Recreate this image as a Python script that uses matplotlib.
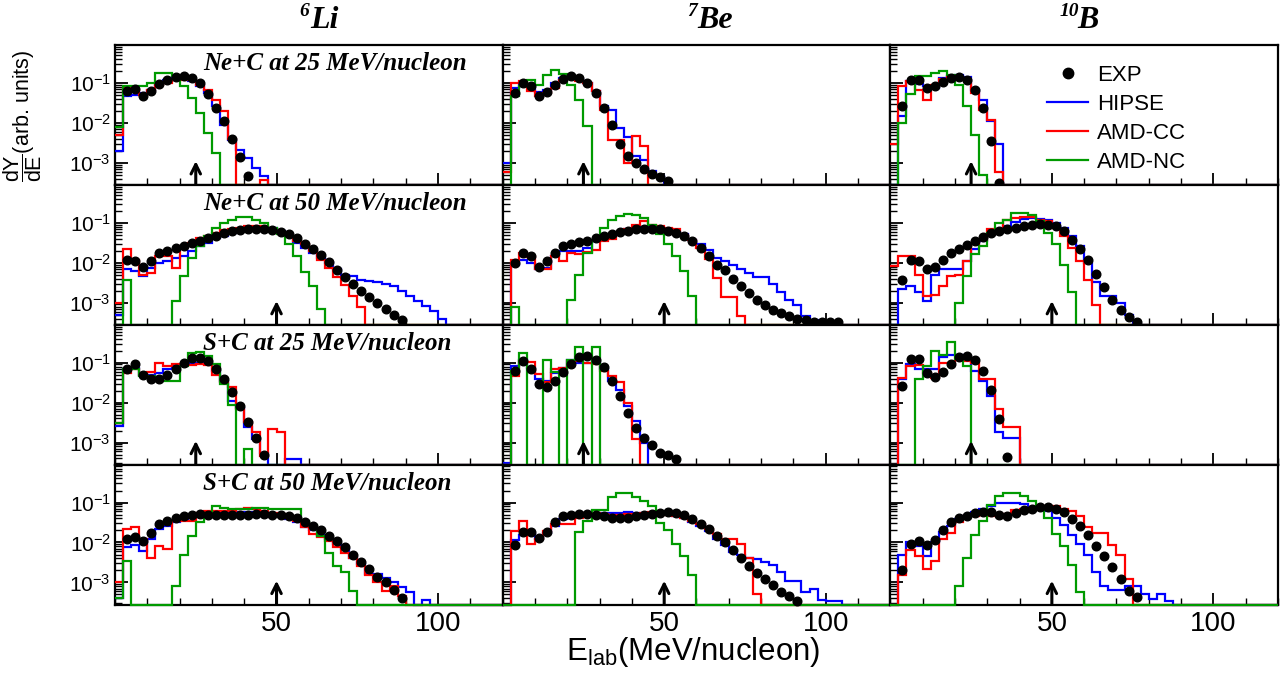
import numpy as np
import matplotlib
matplotlib.use("Agg")
import matplotlib.pyplot as plt
from matplotlib.lines import Line2D
from matplotlib.ticker import LogLocator, NullFormatter, FixedLocator, MultipleLocator, FuncFormatter

# ---------------- data (dY/dE per 2.5 MeV/nucleon bin, 0 = empty bin) ----------------
bin_width = 2.5
x_max = 120.0

# 6Li, Ne+C 25
li_ne25_exp = [0, 0.062, 0.072, 0.048, 0.062, 0.095, 0.12, 0.14, 0.147, 0.13, 0.1, 0.054, 0.024, 0.011, 0.004, 0.0014, 4.8e-4]
li_ne25_hipse = [0.002, 0.048, 0.05, 0.056, 0.068, 0.1, 0.12, 0.13, 0.125, 0.11, 0.085, 0.056, 0.026, 0.009, 0.0038, 0.00215, 0.0013, 7.5e-4, 4.6e-4]
li_ne25_amdcc = [0.005, 0.075, 0.068, 0.05, 0.065, 0.09, 0.1, 0.115, 0.12, 0.115, 0.09, 0.068, 0.038, 0.02, 0.004, 0, 0, 0, 3.8e-4]
li_ne25_amdnc = [0.008, 0.082, 0.082, 0.085, 0.1, 0.178, 0.178, 0.147, 0.082, 0.042, 0.0178, 0.0056, 0.0018]

# 6Li, Ne+C 50
li_ne50_exp = [0, 0.012, 0.011, 0.008, 0.011, 0.0178, 0.02, 0.024, 0.027, 0.032, 0.036, 0.042, 0.048, 0.056, 0.062, 0.066,
               0.068, 0.068, 0.068, 0.066, 0.058, 0.051, 0.042, 0.03, 0.022, 0.016, 0.0105, 0.0065, 0.0045, 0.003, 0.002,
               0.0014, 0.001, 7e-4, 5e-4, 3.6e-4]
li_ne50_hipse = [5e-4, 0.0068, 0.0062, 0.0046, 0.0075, 0.01, 0.011, 0.013, 0.0147, 0.0195, 0.026, 0.032, 0.041, 0.048, 0.056,
                 0.061, 0.068, 0.075, 0.075, 0.072, 0.062, 0.048, 0.032, 0.024, 0.0178, 0.0132, 0.01, 0.0068, 0.005, 0.0046,
                 0.0038, 0.0035, 0.0032, 0.0029, 0.0026, 0.002, 0.0015, 0.0011, 8.3e-4, 6.2e-4, 3.8e-4]
li_ne50_amdcc = [0.001, 0.0215, 0.012, 0.005, 0.0056, 0.0147, 0.0147, 0.0075, 0.026, 0.032, 0.042, 0.048, 0.056, 0.066, 0.071,
                 0.075, 0.082, 0.085, 0.082, 0.071, 0.056, 0.046, 0.035, 0.03, 0.02, 0.012, 0.0075, 0.0045, 0.0028, 0.0015, 8e-4]
li_ne50_amdnc = [0, 0.0038, 0, 0, 0, 0, 0, 0.0011, 0.0046, 0.013, 0.026, 0.046, 0.075, 0.1, 0.12, 0.14, 0.14, 0.12, 0.1, 0.075,
                 0.051, 0.029, 0.0147, 0.006, 0.0026, 6.8e-4]

# 6Li, S+C 25
li_s25_exp = [0, 0.07, 0.09, 0.048, 0.04, 0.04, 0.048, 0.068, 0.1, 0.13, 0.13, 0.11, 0.07, 0.038, 0.018, 0.008, 0.0033, 0.0013, 4.8e-4]
li_s25_hipse = [0.0026, 0.07, 0.075, 0.05, 0.05, 0.056, 0.068, 0.082, 0.09, 0.1, 0.1, 0.09, 0.062, 0.035, 0.011, 0.0075, 0.0024,
                0.0012, 5.6e-4, 0, 0, 3.8e-4, 3.8e-4]
li_s25_amdcc = [0.003, 0.056, 0.068, 0.05, 0.06, 0.1, 0.082, 0.09, 0.085, 0.085, 0.09, 0.085, 0.05, 0.032, 0.024, 0.007, 0.0032,
                0.0018, 4.6e-4, 0.0022, 0.0018]
li_s25_amdnc = [0.003, 0.068, 0.07, 0.046, 0.046, 0.042, 0.035, 0.035, 0.082, 0.17, 0.18, 0.15, 0.09, 0.029, 0.0085, 0, 6.8e-4]

# 6Li, S+C 50
li_s50_exp = [0, 0.012, 0.014, 0.011, 0.017, 0.029, 0.035, 0.04, 0.045, 0.048, 0.051, 0.048, 0.048, 0.048, 0.048, 0.048, 0.048,
              0.051, 0.051, 0.05, 0.048, 0.045, 0.04, 0.033, 0.026, 0.02, 0.0147, 0.011, 0.0075, 0.005, 0.0033, 0.0022, 0.0014,
              0.001, 6.5e-4, 4e-4]
li_s50_hipse = [4e-4, 0.0075, 0.0085, 0.0062, 0.012, 0.0215, 0.026, 0.033, 0.038, 0.044, 0.051, 0.054, 0.056, 0.058, 0.058, 0.058,
                0.058, 0.058, 0.056, 0.051, 0.046, 0.038, 0.032, 0.024, 0.02, 0.015, 0.012, 0.009, 0.0068, 0.0042, 0.0029, 0.0016,
                0.0016, 0.0013, 0.001, 7.5e-4, 5.6e-4, 0, 3.6e-4]
li_s50_amdcc = [0.001, 0.0215, 0.024, 0.012, 0.0042, 0.0083, 0.0068, 0.035, 0.035, 0.035, 0.056, 0.062, 0.062, 0.062, 0.062,
                0.068, 0.075, 0.068, 0.062, 0.056, 0.051, 0.042, 0.035, 0.024, 0.0165, 0.0135, 0.011, 0.0075, 0.0056, 0.0042,
                0.0026, 0.0015, 0.001, 6.2e-4, 8.3e-4, 4.6e-4]
li_s50_amdnc = [4e-4, 0.0035, 0, 0, 0, 0, 0, 8.3e-4, 0.005, 0.0147, 0.032, 0.056, 0.082, 0.075, 0.068, 0.068, 0.07, 0.075,
                0.075, 0.07, 0.07, 0.07, 0.068, 0.035, 0.028, 0.0147, 0.0056, 0.0026, 0.0018, 6.2e-4]

# 7Be, Ne+C 25
be_ne25_exp = [0, 0.056, 0.1, 0.082, 0.048, 0.058, 0.09, 0.125, 0.147, 0.13, 0.1, 0.056, 0.024, 0.0087, 0.003, 0.0015, 0.001,
               7e-4, 5.3e-4, 4.4e-4, 3.5e-4]
be_ne25_hipse = [0.001, 0.075, 0.09, 0.082, 0.058, 0.068, 0.1, 0.13, 0.14, 0.125, 0.1, 0.062, 0.026, 0.0215, 0.0075, 0.0045,
                 0.0015, 0.0012, 6.2e-4, 4.6e-4]
be_ne25_amdcc = [6e-4, 0.1, 0.11, 0.062, 0.046, 0.056, 0.075, 0.12, 0.13, 0.11, 0.1, 0.062, 0.0215, 0.0038, 0.0038, 0.001,
                 0.0046, 0.0026]
be_ne25_amdnc = [0, 0.046, 0.082, 0.115, 0.09, 0.16, 0.21, 0.17, 0.09, 0.038, 0.0083]

# 7Be, Ne+C 50
be_ne50_exp = [0, 0.0096, 0.018, 0.0147, 0.008, 0.011, 0.018, 0.026, 0.03, 0.033, 0.036, 0.042, 0.046, 0.053, 0.058, 0.064,
               0.068, 0.07, 0.07, 0.068, 0.062, 0.056, 0.048, 0.035, 0.024, 0.015, 0.009, 0.0065, 0.004, 0.0026, 0.0017,
               0.0012, 8.5e-4, 6.5e-4, 5.5e-4, 4.7e-4, 4e-4, 3.6e-4, 3.3e-4, 3.2e-4, 3.2e-4, 3.2e-4]
be_ne50_hipse = [0, 0.009, 0.012, 0.01, 0.0068, 0.0075, 0.0147, 0.0195, 0.0195, 0.02, 0.024, 0.035, 0.04, 0.048, 0.056, 0.068,
                 0.075, 0.078, 0.078, 0.07, 0.068, 0.058, 0.051, 0.038, 0.029, 0.0205, 0.0135, 0.011, 0.009, 0.007, 0.0056,
                 0.0044, 0.0044, 0.003, 0.0018, 0.0012, 8.5e-4, 4.6e-4, 3.6e-4]
be_ne50_amdcc = [0, 0.012, 0.018, 0.014, 0.007, 0.007, 0.015, 0.011, 0.0178, 0.017, 0.019, 0.021, 0.035, 0.04, 0.056, 0.068,
                 0.09, 0.11, 0.088, 0.085, 0.075, 0.068, 0.05, 0.038, 0.024, 0.0125, 0.0042, 0.0014, 0.0014, 4.6e-4]
be_ne50_amdnc = [0, 8e-4, 0, 0, 0, 0, 0, 0, 0.0012, 0.005, 0.0178, 0.038, 0.075, 0.12, 0.147, 0.17, 0.155, 0.135, 0.09, 0.051,
                 0.029, 0.0147, 0.0062, 0.0015]

# 7Be, S+C 25
be_s25_exp = [0, 0.062, 0.11, 0.07, 0.029, 0.024, 0.035, 0.058, 0.095, 0.14, 0.15, 0.12, 0.078, 0.035, 0.0147, 0.0056, 0.0023,
              0.0013, 8.7e-4, 5.6e-4, 5e-4, 3.9e-4]
be_s25_hipse = [3e-4, 0.082, 0.12, 0.075, 0.038, 0.035, 0.056, 0.075, 0.12, 0.1, 0.1, 0.1, 0.068, 0.035, 0.021, 0.0083, 0.0035, 9.6e-4]
be_s25_amdcc = [0, 0.046, 0.11, 0.105, 0.051, 0.032, 0.07, 0.075, 0.11, 0.11, 0.1, 0.09, 0.062, 0.046, 0.032, 0.01, 0.0012]
be_s25_amdnc = [0, 0.062, 0.178, 0, 0, 0.12, 0.058, 0, 0.12, 0.24, 0, 0.24]

# 7Be, S+C 50
be_s50_exp = [0, 0.0086, 0.018, 0.018, 0.0133, 0.018, 0.032, 0.046, 0.048, 0.051, 0.051, 0.048, 0.045, 0.042, 0.042, 0.042,
              0.045, 0.048, 0.051, 0.054, 0.058, 0.054, 0.048, 0.038, 0.029, 0.0215, 0.0147, 0.01, 0.0065, 0.0042, 0.0026,
              0.0017, 0.0012, 8.5e-4, 5.8e-4, 4.5e-4, 3.5e-4]
be_s50_hipse = [0, 0.0115, 0.015, 0.016, 0.012, 0.017, 0.026, 0.038, 0.042, 0.048, 0.051, 0.051, 0.054, 0.054, 0.056, 0.058,
                0.056, 0.054, 0.056, 0.054, 0.051, 0.046, 0.042, 0.033, 0.026, 0.0195, 0.012, 0.0086, 0.0058, 0.005, 0.0042,
                0.0038, 0.0032, 0.0027, 0.0018, 0.0011, 0.0011, 5.7e-4, 7e-4, 3.6e-4, 3.4e-4, 3.4e-4]
be_s50_amdcc = [0, 0.0195, 0.035, 0.009, 0.012, 0.0195, 0.029, 0.029, 0.029, 0.04, 0.056, 0.054, 0.051, 0.048, 0.048, 0.051,
                0.053, 0.056, 0.058, 0.054, 0.048, 0.045, 0.042, 0.035, 0.029, 0.0215, 0.016, 0.0125, 0.0125, 0.009, 0.0042, 5e-4]
be_s50_amdnc = [0, 0, 0, 0, 0, 0, 0, 0, 0, 0.018, 0.035, 0.065, 0.065, 0.14, 0.17, 0.17, 0.14, 0.11, 0.082, 0.031, 0.021,
                0.009, 0.0046, 0.0015]

# 10B, Ne+C 25
b_ne25_exp = [0, 0.027, 0.117, 0.117, 0.075, 0.082, 0.104, 0.13, 0.14, 0.117, 0.068, 0.023, 0.0035, 3.1e-4]
b_ne25_hipse = [0, 0.015, 0.11, 0.095, 0.082, 0.075, 0.13, 0.147, 0.16, 0.14, 0.068, 0.037, 0.011, 0.003]
b_ne25_amdcc = [0.003, 0.082, 0.11, 0.068, 0.038, 0.09, 0.125, 0.14, 0.125, 0.12, 0.056, 0.021, 0.012, 6e-4]
b_ne25_amdnc = [0, 0.01, 0.054, 0.147, 0.15, 0.178, 0.2, 0.16, 0.09, 0.026, 0.005, 5e-4]

# 10B, Ne+C 50
b_ne50_exp = [0, 0.0038, 0.012, 0.011, 0.0068, 0.008, 0.012, 0.0178, 0.0225, 0.028, 0.035, 0.045, 0.054, 0.062, 0.068, 0.075,
              0.082, 0.09, 0.095, 0.09, 0.082, 0.062, 0.038, 0.0225, 0.0115, 0.0053, 0.0025, 0.0012, 6.5e-4, 4.5e-4, 3.2e-4]
b_ne50_hipse = [0, 0.00215, 0.0026, 0.0018, 0.0011, 0.005, 0.007, 0.007, 0.0068, 0.011, 0.0215, 0.035, 0.051, 0.068, 0.082,
                0.104, 0.125, 0.13, 0.125, 0.117, 0.1, 0.075, 0.046, 0.026, 0.01, 0.0032, 0.0015, 0.0015, 0.001, 5e-4, 3e-4]
b_ne50_amdcc = [0.0083, 0.0145, 0.0145, 0.005, 0.0015, 0.0016, 0.0026, 0.0046, 0.005, 0.011, 0.029, 0.038, 0.068, 0.07, 0.12,
                0.13, 0.14, 0.14, 0.12, 0.11, 0.075, 0.046, 0.024, 0.011, 0.0038, 8.5e-4]
b_ne50_amdnc = [0, 0, 0, 0, 0, 0, 0, 0, 0.001, 0.0046, 0.0165, 0.026, 0.056, 0.1, 0.12, 0.178, 0.178, 0.155, 0.11, 0.056,
                0.029, 0.009, 0.0018]

# 10B, S+C 25
b_s25_exp = [0, 0.026, 0.125, 0.125, 0.056, 0.045, 0.058, 0.09, 0.14, 0.15, 0.12, 0.062, 0.0205, 0.0038, 4.4e-4]
b_s25_hipse = [0, 0.038, 0.09, 0.07, 0.07, 0.068, 0.14, 0.16, 0.16, 0.13, 0.062, 0.035, 0.0147, 0.0018, 0.0013, 0.0013]
b_s25_amdcc = [0, 0.042, 0.082, 0.085, 0.056, 0.042, 0.1, 0.1, 0.115, 0.11, 0.096, 0.038, 0.038, 0.0068, 0.0024, 0.0024]
b_s25_amdnc = [0, 0, 0, 0.04, 0.082, 0.2, 0.16, 0.33, 0.125, 0.082]

# 10B, S+C 50
b_s50_exp = [0, 0.0021, 0.0092, 0.011, 0.0086, 0.0115, 0.0207, 0.032, 0.04, 0.045, 0.054, 0.058, 0.058, 0.048, 0.045, 0.054,
             0.065, 0.07, 0.078, 0.078, 0.07, 0.058, 0.038, 0.026, 0.015, 0.0083, 0.0045, 0.0025, 0.0012, 6.2e-4, 4.4e-4]
b_s50_hipse = [0, 0.005, 0.01, 0.008, 0.0046, 0.01, 0.0178, 0.026, 0.038, 0.046, 0.058, 0.07, 0.082, 0.1, 0.1, 0.1, 0.09,
               0.075, 0.075, 0.062, 0.042, 0.027, 0.015, 0.009, 0.005, 0.0018, 8e-4, 6.5e-4, 6.5e-4, 8e-4, 8e-4, 5e-4, 3.8e-4,
               5e-4, 3.5e-4]
b_s50_amdcc = [0, 0.0015, 0.0065, 0.0046, 0.0022, 0.0035, 0.012, 0.017, 0.033, 0.045, 0.045, 0.05, 0.046, 0.048, 0.051, 0.066,
               0.07, 0.075, 0.082, 0.082, 0.082, 0.068, 0.062, 0.045, 0.024, 0.0175, 0.0175, 0.0086, 0.005, 0.0012]
b_s50_amdnc = [0, 0, 0, 0, 0, 0, 0, 0, 8.3e-4, 0.004, 0.015, 0.035, 0.085, 0.147, 0.17, 0.178, 0.147, 0.11, 0.075, 0.042,
               0.016, 0.0083, 0.0027, 5.6e-4]

fragments = ["Li", "Be", "B"]
mass_numbers = ["6", "7", "10"]
reactions = ["Ne+C at 25 MeV/nucleon", "Ne+C at 50 MeV/nucleon", "S+C at 25 MeV/nucleon", "S+C at 50 MeV/nucleon"]
beam_energies = [25, 50, 25, 50]
series_names = ["EXP", "HIPSE", "AMD-CC", "AMD-NC"]

panels = [
    [(li_ne25_exp, li_ne25_hipse, li_ne25_amdcc, li_ne25_amdnc),
     (be_ne25_exp, be_ne25_hipse, be_ne25_amdcc, be_ne25_amdnc),
     (b_ne25_exp, b_ne25_hipse, b_ne25_amdcc, b_ne25_amdnc)],
    [(li_ne50_exp, li_ne50_hipse, li_ne50_amdcc, li_ne50_amdnc),
     (be_ne50_exp, be_ne50_hipse, be_ne50_amdcc, be_ne50_amdnc),
     (b_ne50_exp, b_ne50_hipse, b_ne50_amdcc, b_ne50_amdnc)],
    [(li_s25_exp, li_s25_hipse, li_s25_amdcc, li_s25_amdnc),
     (be_s25_exp, be_s25_hipse, be_s25_amdcc, be_s25_amdnc),
     (b_s25_exp, b_s25_hipse, b_s25_amdcc, b_s25_amdnc)],
    [(li_s50_exp, li_s50_hipse, li_s50_amdcc, li_s50_amdnc),
     (be_s50_exp, be_s50_hipse, be_s50_amdcc, be_s50_amdnc),
     (b_s50_exp, b_s50_hipse, b_s50_amdcc, b_s50_amdnc)],
]

# ---------------- style ----------------
plt.rcParams["font.family"] = ["Liberation Sans", "DejaVu Sans"]
plt.rcParams["mathtext.fontset"] = "custom"
plt.rcParams["mathtext.rm"] = "Liberation Sans"
plt.rcParams["mathtext.it"] = "Liberation Sans:italic"
plt.rcParams["mathtext.bf"] = "Liberation Sans:bold"

C_HIPSE = "#0000ff"
C_CC = "#ff0000"
C_NC = "#009a00"
YMIN, YMAX = 2.8e-4, 0.89

W, H = 1286, 676
fig = plt.figure(figsize=(W / 100, H / 100), dpi=100)
gs = fig.add_gridspec(4, 3, left=115 / W, right=1278 / W, top=1 - 45 / H, bottom=1 - 604.5 / H,
                      hspace=0, wspace=0)

n_bins = int(round(x_max / bin_width))
edges = np.arange(n_bins + 1) * bin_width
centers = edges[:-1] + bin_width / 2


def full(v):
    a = np.zeros(n_bins)
    a[:len(v)] = v
    return a


for r in range(4):
    for c in range(3):
        ax = fig.add_subplot(gs[r, c])
        exp, hipse, amdcc, amdnc = [full(v) for v in panels[r][c]]
        ax.set_yscale("log")
        ax.set_xlim(0, x_max)
        ax.set_ylim(YMIN, YMAX)
        for vals, col in ((hipse, C_HIPSE), (amdcc, C_CC), (amdnc, C_NC)):
            ax.stairs(np.maximum(vals, YMIN), edges, baseline=None, color=col, lw=1.6,
                      zorder=3, clip_on=False)
        m = exp > 0
        ax.plot(centers[m], exp[m], "o", color="black", ms=6.2, zorder=4, clip_on=False)
        ax.annotate("", xy=(beam_energies[r], 0.17), xytext=(beam_energies[r], 0.0),
                    xycoords=("data", "axes fraction"), textcoords=("data", "axes fraction"),
                    arrowprops=dict(arrowstyle="->", lw=2.2, color="black", mutation_scale=17,
                                    shrinkA=0, shrinkB=0), zorder=5)
        for s in ax.spines.values():
            s.set_linewidth(1.6)
        ax.xaxis.set_major_locator(FixedLocator([50, 100]))
        ax.xaxis.set_minor_locator(MultipleLocator(10))
        ax.yaxis.set_major_locator(LogLocator(base=10, numticks=10))
        ax.yaxis.set_minor_locator(LogLocator(base=10, subs=np.arange(2, 10), numticks=10))
        ax.yaxis.set_minor_formatter(NullFormatter())
        ax.tick_params(which="major", direction="in", length=9, width=1.3, top=False, right=False)
        ax.tick_params(which="minor", direction="in", length=5, width=1.0, top=False, right=False)
        ax.tick_params(axis="x", labelsize=20, pad=5)
        ax.tick_params(axis="y", labelsize=15, pad=3)
        if c != 0:
            ax.tick_params(labelleft=False)
        else:
            ax.yaxis.set_major_formatter(
                FuncFormatter(lambda v, p: r"$10^{%d}$" % int(round(np.log10(v)))))
            ax.text(0.227, 0.865, reactions[r], transform=ax.transAxes, ha="left", va="center",
                    fontsize=18, fontweight="bold", fontstyle="italic", family="Liberation Serif")
        if r != 3:
            ax.tick_params(labelbottom=False)
        if r == 0 and c == 2:
            handles = [Line2D([], [], ls="none", marker="o", color="black", ms=7.5),
                       Line2D([], [], color=C_HIPSE, lw=1.6),
                       Line2D([], [], color=C_CC, lw=1.6),
                       Line2D([], [], color=C_NC, lw=1.6)]
            fig.legend(handles, series_names, loc="upper left", bbox_to_anchor=(1047 / W, 1 - 65 / H),
                       frameon=False, fontsize=16, handlelength=1.85, handletextpad=0.4,
                       labelspacing=0.36, borderpad=0, borderaxespad=0)

# column titles (mass number as superscript)
title_pos = [(310, 299), (697, 687), (1077, 1060)]
for (xm, xs), el, A in zip(title_pos, fragments, mass_numbers):
    fig.text(xm / W, 1 - 21 / H, el, ha="left", va="center", fontsize=23, fontweight="bold",
             fontstyle="italic", family="Liberation Serif")
    fig.text(xs / W, 1 - 12 / H, A, ha="left", va="center", fontsize=14, fontweight="bold",
             fontstyle="italic", family="Liberation Serif")

fig.text(693 / W, 1 - 652 / H, r"E$_{\mathrm{lab}}$(MeV/nucleon)", ha="center", va="center", fontsize=22.5)
fig.text(23 / W, 1 - 116 / H, r"$\dfrac{\mathrm{dY}}{\mathrm{dE}}$(arb. units)", ha="center", va="center",
         rotation=90, fontsize=15.5)

fig.savefig("out.png", dpi=100)
